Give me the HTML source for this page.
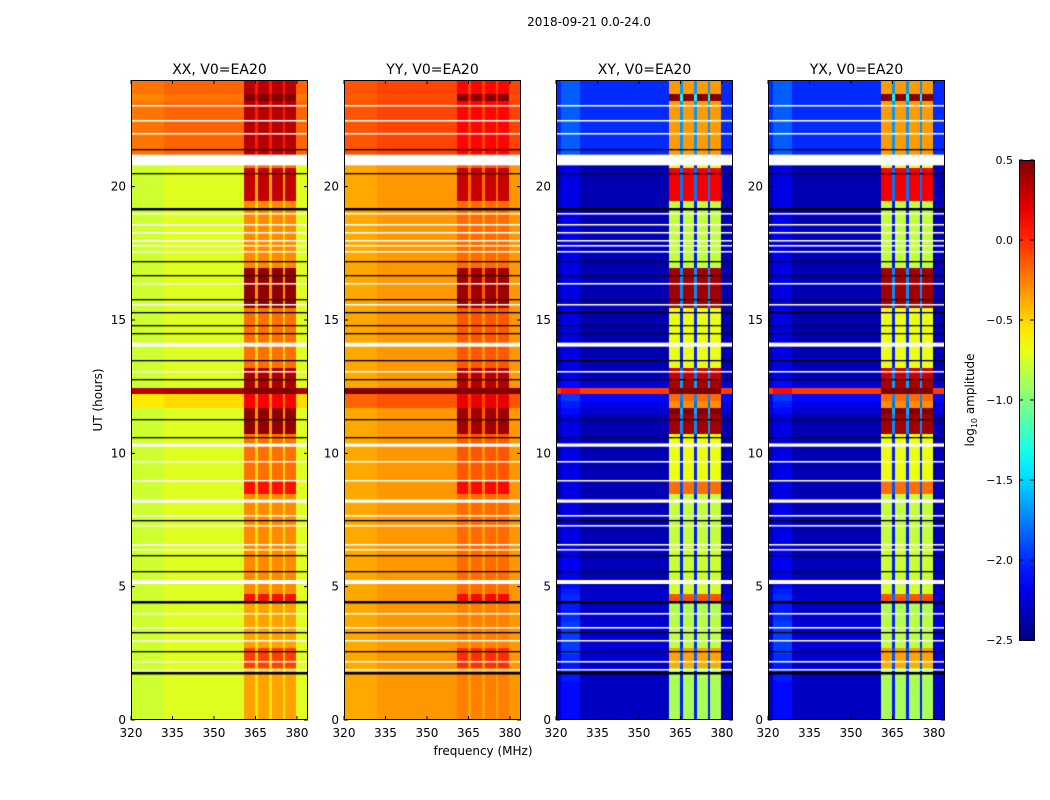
<!DOCTYPE html>
<html><head><meta charset="utf-8"><style>
body{margin:0;background:#fff;width:1050px;height:800px;overflow:hidden;font-family:"DejaVu Sans",sans-serif;}
#root{position:relative;width:1050px;height:800px;}
canvas{position:absolute;}
</style></head><body><div id="root">
<svg id="svg" width="1050" height="800" style="position:absolute;left:0;top:0"></svg>
</div>
<script>
// ---- data ----
const titles=["XX, V0=EA20","YY, V0=EA20","XY, V0=EA20","YX, V0=EA20"];
const freqTicks=[320,335,350,365,380];
const timeTicks=[0,5,10,15,20];
const cbTicks=[0.5,0.0,-0.5,-1.0,-1.5,-2.0,-2.5];
const cbTickLabels=["0.5","0.0","\u22120.5","\u22121.0","\u22121.5","\u22122.0","\u22122.5"];
const bandChans=[41,42,43,44,46,47,48,49,51,52,53,54,56,57,58,59];
const gapChans=[45,50,55];
const bgLevel=[-0.72,-0.32,-2.35,-2.35];
const bandLevel=[-0.35,-0.25,-0.92,-0.92];
const bandGain=[1.45,1.2,2.4,2.4];
const gapLevel=[-0.55,-0.35,-2.1,-2.1];
const topShiftScale=[1,0.45,1,1];
// band heat per quarter-hour row (0..24h, 96 rows)
const bandHeat=[0.4,0.4,0.4,0.4,0.4,0.4,0.4,0.4,0.6,0.6,0.6,0.4,0.4,0.4,0.4,0.4,0.4,0.4,0.7,0.45,0.45,0.45,0.45,0.45,0.45,0.45,0.45,0.45,0.45,0.45,0.45,0.45,0.45,0.45,0.7,0.7,0.5,0.5,0.5,0.5,0.5,0.5,0.5,0.95,0.95,0.95,0.95,0.6,0.6,1.0,0.9,0.9,0.9,0.5,0.5,0.5,0.5,0.5,0.5,0.5,0.5,0.5,0.95,0.95,0.95,0.95,0.95,0.95,0.45,0.45,0.45,0.45,0.45,0.45,0.45,0.45,0.45,0.45,0.85,0.85,0.85,0.85,0.85,0.5,0.5,0.5,0.5,0.5,0.5,0.5,0.5,0.5,0.5,0.95,0.5,0.5];
const rowShiftPar=[0,0,0,0,0,0,0,0,0,0,0,0,0,0,0,0,0,0,0,0,0,0,0,0,0,0,0,0,0,0,0,0,0,0,0,0,0,0,0,0,0,0,0,0,0,0,0,0.2,0.2,1.1,0,0,0,0,0,0,0,0,0,0,0,0,0,0,0,0,0,0,0,0,0,0,0,0,0,0,0,0,0,0,0,0,0,0,0.55,0.55,0.55,0.55,0.55,0.55,0.55,0.55,0.55,0.5,0.55,0.55];
const rowShiftCross=[0.1,0.1,0.1,0.1,0.1,0.1,0.15,0.15,0.15,0.2,0.25,0.25,0.25,0.25,0.25,0.2,0.15,0.15,0.2,0.15,0.1,0.05,0.05,0.05,0.05,0.05,0,0,0,0,0,0,0,0,0,0,0,0,0,0,0,0,0,0,0,0,0.1,0.15,0.25,2.3,0.1,0,0,0,0,0,0,0,0,0,0,0,0,0,0,0,0,0,0,0,0,0,0,0,0,0,0,0,0,0,0,0,0,0,0.35,0.35,0.35,0.35,0.35,0.35,0.35,0.35,0.35,0.35,0.35,0.35];
const whiteBands=[[20.8,21.2],[14.0,14.15],[5.1,5.25],[8.15,8.27],[10.25,10.37]];
const whiteLines=[23.05,22.5,22.0,19.0,18.6,18.3,18.0,17.8,17.6,16.4,15.6,13.1,9.7,9.0,7.7,7.3,6.6,6.4,4.0,3.5,3.0,2.2,1.9];
const blackLines=[21.4,20.5,19.2,17.2,16.7,15.8,15.3,14.8,14.5,13.5,12.8,11.3,10.6,7.5,6.2,5.6,4.45,3.3,2.6,1.8];

// ---- layout ----
const panelX=[131,344,556,768], PW=177, PT=80, PH=640;
const fmin=320,fmax=384,tmax=24;
const xs=(p,f)=>panelX[p]+(f-fmin)/(fmax-fmin)*PW;
const ys=h=>PT+PH-(h/tmax)*PH;
const cbX=1019,cbW=15,cbT=160,cbH=480,vmin=-2.5,vmax=0.5;
const cbY=v=>cbT+(vmax-v)/(vmax-vmin)*cbH;
function jet(v){let x=(v-vmin)/(vmax-vmin);x=Math.max(0,Math.min(1,x));
 const f=t=>Math.max(0,Math.min(1,t));
 const r=f(1.5-Math.abs(4*x-3)),g=f(1.5-Math.abs(4*x-2)),b=f(1.5-Math.abs(4*x-1));
 return `rgb(${Math.round(r*255)},${Math.round(g*255)},${Math.round(b*255)})`;}
const root=document.getElementById('root');
const svg=document.getElementById('svg');
const NS='http://www.w3.org/2000/svg';
const FF='DejaVu Sans, sans-serif';
function txt(x,y,s,size,anchor,name){const e=document.createElementNS(NS,'text');
 e.setAttribute('x',x);e.setAttribute('y',y);e.setAttribute('font-size',size);
 e.setAttribute('text-anchor',anchor);e.setAttribute('font-family',FF);
 e.textContent=s;
 
 
 svg.appendChild(e);return e;}
function line(x1,y1,x2,y2,c,w){const e=document.createElementNS(NS,'line');
 e.setAttribute('x1',x1);e.setAttribute('y1',y1);e.setAttribute('x2',x2);e.setAttribute('y2',y2);
 e.setAttribute('stroke',c);e.setAttribute('stroke-width',w);
 
 
 svg.appendChild(e);}

for(let p=0;p<4;p++){
 const cv=document.createElement('canvas');cv.width=PW;cv.height=PH;
 cv.style.left=panelX[p]+'px';cv.style.top=PT+'px';
 
 
 root.insertBefore(cv,svg);
 const ctx=cv.getContext('2d');
 const cross=p>=2;
 for(let r=0;r<bandHeat.length;r++){
  const y0=ys((r+1)/4)-PT,y1=ys(r/4)-PT;
  let shift=cross?rowShiftCross[r]:rowShiftPar[r];
  if(r>=84)shift*=topShiftScale[p];
  for(let c=0;c<fmax-fmin;c++){
   let v=bgLevel[p];
   if(cross&&c>=2&&c<9)v+=0.15;
   if(!cross&&c<12)v-=0.05;
   let s=shift;
   if(cross&&(c<2||c>=9)&&r<46)s*=0.4;
   if(bandChans.includes(c))v=bandLevel[p]+bandGain[p]*(bandHeat[r]-0.4);
   else if(gapChans.includes(c))v=gapLevel[p]+bandGain[p]*0.3*(bandHeat[r]-0.4);
   v+=s;
   ctx.fillStyle=jet(v);
   const x0=xs(p,fmin+c)-panelX[p],x1=xs(p,fmin+c+1)-panelX[p];
   ctx.fillRect(Math.floor(x0),Math.floor(y0),Math.ceil(x1-x0)+1,Math.ceil(y1-y0)+1);
  }
 }
 ctx.fillStyle='#fff';
 whiteBands.forEach(b=>{const a=ys(b[1])-PT,z=ys(b[0])-PT;ctx.fillRect(0,a,PW,z-a);});
 whiteLines.forEach(h=>ctx.fillRect(0,Math.round(ys(h)-PT),PW,1.5));
 ctx.fillStyle='#000';
 blackLines.forEach(h=>{const w=(h===4.45||h===19.2||h===1.8)?2.5:1.3;ctx.fillRect(0,Math.round(ys(h)-PT),PW,w);});
 const fr=document.createElementNS(NS,'rect');
 fr.setAttribute('x',panelX[p]+0.5);fr.setAttribute('y',PT+0.5);fr.setAttribute('width',PW-1);fr.setAttribute('height',PH-1);
 fr.setAttribute('fill','none');fr.setAttribute('stroke','#000');fr.setAttribute('stroke-width',1);
 
 
 svg.appendChild(fr);
 freqTicks.forEach(f=>{const x=xs(p,f);line(x,PT+PH,x,PT+PH-4,'#000',1);line(x,PT,x,PT+4,'#000',1);
  txt(x,PT+PH+17,String(f),12,'middle','x-tick-label');});
 timeTicks.forEach(h=>{const y=ys(h);line(panelX[p],y,panelX[p]+4,y,'#000',1);line(panelX[p]+PW,y,panelX[p]+PW-4,y,'#000',1);
  txt(panelX[p]-5,y+4,String(h),12,'end','y-tick-label');});
 txt(panelX[p]+PW/2,74,titles[p],14,'middle','panel-title');
}
txt(589,26,'2018-09-21 0.0-24.0',12,'middle','figure-title');
txt(483,755,'frequency (MHz)',12,'middle','x-axis-title');
const yl=txt(0,0,'UT (hours)',12,'middle','y-axis-title');yl.setAttribute('transform','translate(102,400) rotate(-90)');
const grad=document.createElementNS(NS,'defs');
let stops='';for(let i=0;i<=20;i++){const v=vmax-(vmax-vmin)*i/20;stops+=`<stop offset="${i*5}%" stop-color="${jet(v)}"/>`;}
grad.innerHTML=`<linearGradient id="cbg" x1="0" y1="0" x2="0" y2="1">${stops}</linearGradient>`;svg.appendChild(grad);
const cb=document.createElementNS(NS,'rect');
cb.setAttribute('x',cbX+0.5);cb.setAttribute('y',cbT+0.5);cb.setAttribute('width',cbW);cb.setAttribute('height',cbH);
cb.setAttribute('fill','url(#cbg)');cb.setAttribute('stroke','#000');


svg.appendChild(cb);
cbTicks.forEach((v,i)=>{const y=cbY(v);line(cbX,y,cbX+4,y,'#000',1);line(cbX+cbW,y,cbX+cbW-4,y,'#000',1);
 txt(1013,y+4,cbTickLabels[i],11,'end','colorbar-tick-label');});
const cl=document.createElementNS(NS,'text');
cl.setAttribute('transform','translate(974,400) rotate(-90)');cl.setAttribute('text-anchor','middle');
cl.setAttribute('font-size','12');cl.setAttribute('font-family',FF);
cl.innerHTML='log<tspan font-size="8" dy="3">10</tspan><tspan dy="-3"> amplitude</tspan>';


svg.appendChild(cl);
</script></body></html>
